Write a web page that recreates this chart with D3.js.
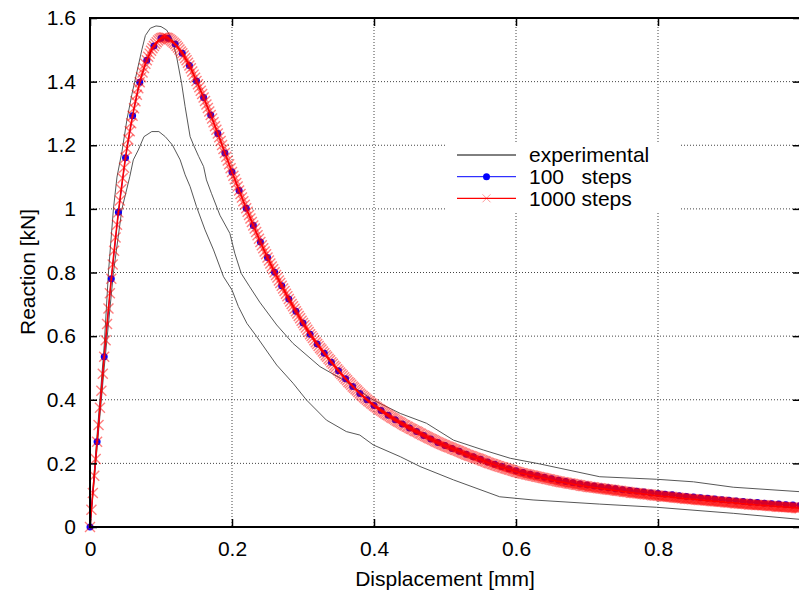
<!DOCTYPE html>
<html><head><meta charset="utf-8">
<script src="https://cdn.jsdelivr.net/npm/d3@7"></script>
<style>
body{margin:0;background:#fff}
svg{display:block}
text{font-family:"Liberation Sans",Arial,Helvetica,sans-serif;fill:#000}
</style>
</head><body><div id="chart"></div>
<script>
// ---------- data ----------
const xTickValues = [0, 0.2, 0.4, 0.6, 0.8];
const yTickValues = [0, 0.2, 0.4, 0.6, 0.8, 1, 1.2, 1.4, 1.6];
const seriesNames = ["experimental", "100   steps", "1000 steps"];
const xTitle = "Displacement [mm]";
const yTitle = "Reaction [kN]";

// 100 steps: reaction at displacement 0, 0.01, ..., 1.00
const steps100Dx = 0.01;
const steps100Y = [
  0, .268, .535, .780, .989, 1.161, 1.293, 1.398, 1.467, 1.512, 1.536,
  1.536, 1.518, 1.489, 1.451, 1.402, 1.350, 1.295, 1.237, 1.176, 1.116,
  1.058, 1.002, .948, .896, .847, .801, .758, .717, .678, .641,
  .606, .575, .546, .518, .491, .466, .442, .420, .400, .382,
  .366, .351, .337, .324, .311, .300, .288, .277, .266, .256,
  .247, .238, .229, .221, .213, .204, .197, .190, .183, .177,
  .171, .166, .161, .156, .152, .147, .143, .139, .135, .132,
  .129, .126, .123, .120, .117, .115, .112, .110, .107, .105,
  .103, .101, .098, .096, .094, .092, .090, .088, .086, .084,
  .082, .080, .078, .077, .075, .073, .072, .070, .069, .067
];

// 1000 steps: reaction at displacement 0, 0.002, ..., 1.000
const steps1000Dx = 0.002;
const steps1000Y = [0,
  .054,.107,.161,.214,.268, .321,.375,.428,.482,.535, .587,.638,.687,.735,.780, .825,.868,.910,.950,.989,
  1.026,1.062,1.096,1.129,1.161, 1.190,1.218,1.244,1.269,1.293, 1.316,1.338,1.359,1.379,1.398, 1.414,1.429,1.443,1.456,1.467,
  1.478,1.488,1.497,1.505,1.512, 1.518,1.524,1.529,1.533,1.536, 1.538,1.539,1.539,1.538,1.536, 1.533,1.530,1.526,1.522,1.518,
  1.513,1.507,1.501,1.495,1.489, 1.482,1.474,1.467,1.459,1.451, 1.442,1.432,1.422,1.412,1.402, 1.392,1.382,1.371,1.361,1.350,
  1.339,1.328,1.317,1.306,1.295, 1.284,1.272,1.260,1.249,1.237, 1.225,1.213,1.201,1.188,1.176, 1.164,1.152,1.140,1.128,1.116,
  1.104,1.093,1.081,1.070,1.058, 1.047,1.036,1.024,1.013,1.002, .991,.981,.970,.959,.948, .938,.927,.917,.906,.896,
  .886,.876,.866,.857,.847, .838,.828,.819,.810,.801, .792,.784,.775,.767,.758, .750,.742,.733,.725,.717,
  .709,.701,.694,.686,.678, .671,.663,.656,.648,.641, .634,.627,.620,.613,.606, .600,.594,.587,.581,.575,
  .569,.563,.558,.552,.546, .540,.535,.529,.524,.518, .513,.507,.502,.496,.491, .486,.481,.476,.471,.466,
  .461,.456,.452,.447,.442, .438,.433,.429,.424,.420, .416,.412,.408,.404,.400, .396,.393,.389,.386,.382,
  .379,.376,.372,.369,.366, .363,.360,.357,.354,.351, .348,.345,.343,.340,.337, .334,.332,.329,.327,.324,
  .321,.319,.316,.314,.311, .309,.307,.304,.302,.300, .298,.295,.293,.290,.288, .286,.284,.281,.279,.277,
  .275,.273,.270,.268,.266, .264,.262,.260,.258,.256, .254,.252,.251,.249,.247, .245,.243,.242,.240,.238,
  .236,.234,.232,.230,.228, .226,.225,.223,.222,.220, .218,.217,.215,.214,.212, .210,.208,.207,.205,.203,
  .201,.200,.198,.197,.195, .194,.192,.191,.189,.188, .187,.185,.184,.182,.181, .180,.178,.177,.175,.174,
  .173,.171,.170,.169,.168, .167,.166,.165,.164,.163, .162,.161,.160,.159,.158, .157,.156,.155,.154,.153,
  .152,.151,.150,.149,.148, .147,.146,.145,.144,.143, .142,.141,.141,.140,.139, .138,.137,.137,.136,.135,
  .134,.133,.133,.132,.131, .130,.129,.129,.128,.127, .126,.126,.125,.125,.124, .123,.123,.122,.122,.121,
  .120,.120,.119,.119,.118, .117,.117,.116,.116,.115, .114,.114,.113,.113,.112, .111,.111,.110,.110,.109,
  .108,.108,.107,.107,.106, .106,.105,.105,.104,.104, .103,.103,.102,.102,.101, .100,.100,.099,.099,.098,
  .098,.097,.097,.096,.096, .096,.095,.095,.094,.094, .093,.093,.092,.092,.091, .091,.090,.090,.089,.089,
  .089,.088,.088,.087,.087, .087,.086,.086,.085,.085, .085,.084,.084,.083,.083, .083,.082,.082,.081,.081,
  .081,.080,.080,.079,.079, .079,.078,.078,.077,.077, .077,.076,.076,.075,.075, .075,.074,.074,.073,.073,
  .073,.072,.072,.071,.071, .071,.070,.070,.069,.069, .069,.069,.068,.068,.068, .068,.067,.067,.066,.066,
  .066,.065,.065,.064,.064, .064,.064,.063,.063,.063, .063,.062,.062,.061,.061, .061,.060,.060,.059,.059
];

// experimental envelope (upper and lower curves)
const expUpperX = [0,.010,.020,.026,.033,.038,.045,.052,.059,.066,.073,.078,.085,.093,.100,.108,.116,.122,.129,.134,.141,.146,.153,.160,.164,.171,.183,.197,.204,.213,.225,.239,.263,.286,.324,.357,.399,.437,.474,.512,.554,.592,.634,.718,.798,.850,.906,1.0];
const expUpperY = [0,.29,.57,.80,1.0,1.10,1.18,1.28,1.36,1.43,1.50,1.545,1.568,1.575,1.573,1.562,1.531,1.478,1.395,1.321,1.227,1.200,1.165,1.133,1.091,1.049,.980,.923,.860,.797,.755,.707,.635,.577,.504,.462,.399,.357,.326,.273,.242,.216,.198,.158,.150,.142,.125,.111];
const expLowerX = [0,.010,.020,.033,.045,.056,.061,.068,.076,.087,.097,.106,.116,.127,.134,.141,.150,.162,.174,.188,.200,.209,.221,.235,.250,.263,.286,.305,.333,.361,.380,.399,.437,.465,.512,.577,.624,.718,.798,.906,1.0];
const expLowerY = [0,.25,.50,.80,1.0,1.101,1.154,1.185,1.227,1.243,1.243,1.227,1.201,1.154,1.107,1.070,1.007,.934,.871,.787,.745,.693,.640,.598,.550,.509,.452,.399,.336,.300,.289,.258,.221,.190,.148,.095,.085,.072,.062,.043,.024];

// ---------- chart ----------
const W = 799, H = 592;
const svg = d3.select("#chart").append("svg").attr("width", W).attr("height", H);
svg.append("rect").attr("width", W).attr("height", H).attr("fill", "#fff");

const x = d3.scaleLinear().domain([0, 1]).range([90, 800]);
const y = d3.scaleLinear().domain([0, 1.6]).range([527, 18]);
const [x0, x1] = x.range(), [y0, y1] = y.range();
const FS = 21;

// grid
const grid = svg.append("g").attr("stroke", "#444").attr("stroke-width", 1).attr("stroke-dasharray", "1,2");
grid.selectAll(".gx").data(xTickValues.filter(d => d > 0)).join("line")
  .attr("x1", d => x(d)).attr("x2", d => x(d)).attr("y1", y1).attr("y2", y0);
grid.selectAll(".gy").data(yTickValues.filter(d => d > 0 && d < 1.6)).join("line")
  .attr("y1", d => y(d)).attr("y2", d => y(d)).attr("x1", x0).attr("x2", x1);

// legend box (opaque)
const leg = svg.append("g");
leg.append("rect").attr("x", 445).attr("y", 142).attr("width", 236).attr("height", 69).attr("fill", "#fff");

// experimental
const line = d3.line().x(d => x(d[0])).y(d => y(d[1]));
const upper = expUpperX.map((v, i) => [v, expUpperY[i]]);
const lower = expLowerX.map((v, i) => [v, expLowerY[i]]);
[upper, lower].forEach(pts => {
  svg.append("path").attr("d", line(pts)).attr("fill", "none").attr("stroke", "#444").attr("stroke-width", 0.9);
});

// 100 steps
const blue = steps100Y.map((v, i) => [i * steps100Dx, v]);
svg.append("path").attr("d", line(blue)).attr("fill", "none").attr("stroke", "#0000ff").attr("stroke-width", 1);
svg.append("g").selectAll("circle").data(blue).join("circle")
  .attr("cx", d => x(d[0])).attr("cy", d => y(d[1])).attr("r", 3.5).attr("fill", "#0000ff");

// 1000 steps
const red = steps1000Y.map((v, i) => [i * steps1000Dx, v]);
const xMark = "M-5,-5L5,5M5,-5L-5,5";
svg.append("g").attr("stroke", "#ff0000").attr("stroke-opacity", 0.5).attr("stroke-width", 1.4).attr("fill", "none")
  .selectAll("path").data(red).join("path")
  .attr("d", xMark).attr("transform", d => `translate(${x(d[0])},${y(d[1])})`);
svg.append("path").attr("d", line(red)).attr("fill", "none").attr("stroke", "#ff0000").attr("stroke-width", 1.6);

// axes
const fmt = d => String(d);
const axB = svg.append("g").attr("transform", `translate(0,${y0})`)
  .call(d3.axisBottom(x).tickValues(xTickValues).tickSize(-8).tickSizeOuter(0).tickPadding(14).tickFormat(fmt));
const axT = svg.append("g").attr("transform", `translate(0,${y1})`)
  .call(d3.axisTop(x).tickValues(xTickValues).tickSize(-8).tickSizeOuter(0).tickFormat(""));
const axL = svg.append("g").attr("transform", `translate(${x0},0)`)
  .call(d3.axisLeft(y).tickValues(yTickValues).tickSize(-7).tickSizeOuter(0).tickPadding(14).tickFormat(fmt));
const axR = svg.append("g").attr("transform", `translate(${x1},0)`)
  .call(d3.axisRight(y).tickValues(yTickValues).tickSize(-7).tickSizeOuter(0).tickFormat(""));
[axB, axT, axL, axR].forEach(a => {
  a.select(".domain").remove();
  a.selectAll(".tick line").attr("stroke", "#000").attr("stroke-width", 1.5);
  a.selectAll("text").attr("font-size", FS).attr("font-family", null).attr("fill", "#000");
  a.attr("font-family", null);
});
svg.append("rect").attr("x", x0).attr("y", y1).attr("width", x1 - x0).attr("height", y0 - y1)
  .attr("fill", "none").attr("stroke", "#000").attr("stroke-width", 2);

// titles
svg.append("text").attr("x", 445).attr("y", 586).attr("text-anchor", "middle").attr("font-size", FS).text(xTitle);
svg.append("text").attr("transform", "translate(35,272) rotate(-90)").attr("text-anchor", "middle").attr("font-size", FS).text(yTitle);

// legend entries
const legY = [155, 176.7, 198.3];
const lg = svg.append("g");
lg.append("line").attr("x1", 457).attr("x2", 516).attr("y1", legY[0]).attr("y2", legY[0]).attr("stroke", "#000").attr("stroke-width", 1);
lg.append("line").attr("x1", 457).attr("x2", 516).attr("y1", legY[1]).attr("y2", legY[1]).attr("stroke", "#0000ff").attr("stroke-width", 1);
lg.append("circle").attr("cx", 486.5).attr("cy", legY[1]).attr("r", 3.5).attr("fill", "#0000ff");
lg.append("line").attr("x1", 457).attr("x2", 516).attr("y1", legY[2]).attr("y2", legY[2]).attr("stroke", "#ff0000").attr("stroke-width", 1.3);
lg.append("path").attr("d", "M-4,-4L4,4M4,-4L-4,4").attr("transform", `translate(486.5,${legY[2]})`)
  .attr("stroke", "#ff0000").attr("stroke-opacity", 0.4).attr("fill", "none");
lg.selectAll("text").data(seriesNames).join("text")
  .attr("x", 529).attr("y", (d, i) => legY[i]).attr("dy", "0.35em").attr("font-size", FS)
  .style("white-space", "pre").text(d => d);
</script>
</body></html>
